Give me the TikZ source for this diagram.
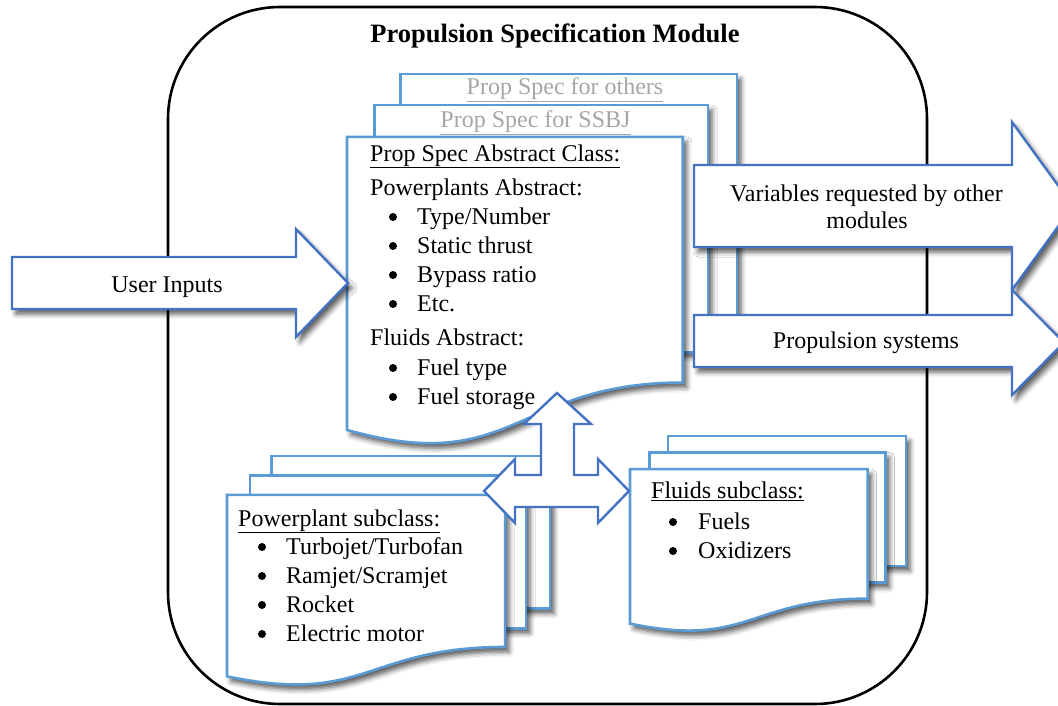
\documentclass[tikz,border=0pt]{standalone}
\usepackage{fontspec}
\setmainfont{Liberation Serif}
\usetikzlibrary{shadows.blur}

\definecolor{docblue}{HTML}{5B9BD5}
\definecolor{arrowblue}{HTML}{4472C4}
\definecolor{ghost}{HTML}{A6A6A6}

\tikzset{
  softshadow/.style={blur shadow={shadow xshift=4pt, shadow yshift=-5pt,
      shadow blur radius=5pt, shadow opacity=65}},
  page/.style={draw=docblue, line width=2.6pt, fill=white, line join=miter, softshadow},
  blockarrow/.style={draw=arrowblue, line width=2.4pt, fill=white, line join=miter},
  shadowarrow/.style={blockarrow, softshadow},
  frame/.style={draw=black, line width=2.6pt, rounded corners=112pt},
  body/.style={inner sep=0pt, font=\fontsize{24}{29}\selectfont},
  lbl/.style={body, anchor=base west},
  ctr/.style={body, anchor=base},
  dot/.style={fill=black},
}

% stacked multi-page document: #1 left, #2 top, #3 width, #4 height
\newcommand\docstack[4]{%
  \path[page] ({#1+0.1376*#3},#2) rectangle ({#1+#3},{#2+0.666*#4});
  \path[page] ({#1+0.0709*#3},{#2+0.084*#4}) rectangle ({#1+0.926*#3},{#2+0.752*#4});
  \path[page] (#1,{#2+0.170*#4}) -- ({#1+0.861*#3},{#2+0.170*#4})
     -- ({#1+0.861*#3},{#2+0.834*#4})
     .. controls ({#1+0.4305*#3},{#2+0.834*#4}) and ({#1+0.4305*#3},{#2+1.090*#4})
     .. (#1,{#2+0.962*#4}) -- cycle;
}
% bullet mark placed left of a list item: #1 x, #2 baseline
\newcommand\bulletmark[2]{\fill[dot] (#1,{#2-7}) circle (4);}

\begin{document}
\begin{tikzpicture}[x=1pt, y=-1pt]
\useasboundingbox (0,0) rectangle (1058,706);
\clip (0,0) rectangle (1058,706);

% module frame and title
\draw[frame] (168,7) rectangle (927,704);
\node[ctr, font=\bfseries\fontsize{26.5}{30}\selectfont] (title) at (555,43) {Propulsion Specification Module};

% abstract class stack
\docstack{347}{74}{390}{370}
\node[ctr, text=ghost] (others) at (565,95) {\underline{Prop Spec for others}};
\node[ctr, text=ghost] (ssbj) at (535.5,128) {\underline{Prop Spec for SSBJ}};
\node[lbl] (abs) at (370,161) {\underline{Prop Spec Abstract Class:}};
\node[lbl] (ppabs) at (370,195) {Powerplants Abstract:};
\bulletmark{393}{224} \node[lbl] (a1) at (417,224) {Type/Number};
\bulletmark{393}{253} \node[lbl] (a2) at (417,253) {Static thrust};
\bulletmark{393}{282} \node[lbl] (a3) at (417,282) {Bypass ratio};
\bulletmark{393}{311} \node[lbl] (a4) at (417,311) {Etc.};
\node[lbl] (flabs) at (370,345) {Fluids Abstract:};
\bulletmark{393}{375} \node[lbl] (a5) at (417,375) {Fuel type};
\bulletmark{393}{404} \node[lbl] (a6) at (417,404) {Fuel storage};

% outputs
\path[shadowarrow] (694,165) -- (1012,165) -- (1012,122) -- (1073,206) -- (1012,290)
   -- (1012,247) -- (694,247) -- cycle;
\path[shadowarrow] (694,315) -- (1012,315) -- (1012,290) -- (1064,342.5) -- (1012,395)
   -- (1012,367) -- (694,367) -- cycle;
\node[ctr] (vars1) at (866.5,201) {Variables requested by other};
\node[ctr] (vars2) at (867,228) {modules};
\node[ctr] (psys) at (866,348) {Propulsion systems};

% input
\path[shadowarrow] (12,257) -- (296,257) -- (296,229) -- (348,283) -- (296,337)
   -- (296,309) -- (12,309) -- cycle;
\node[ctr] (user) at (167,292) {User Inputs};

% powerplant subclass stack
\docstack{227}{456}{323}{229}
\node[lbl] (pps) at (238,526) {\underline{Powerplant subclass:}};
\bulletmark{262}{554} \node[lbl] (p1) at (286,554) {Turbojet/Turbofan};
\bulletmark{262}{583} \node[lbl] (p2) at (286,583) {Ramjet/Scramjet};
\bulletmark{262}{612} \node[lbl] (p3) at (286,612) {Rocket};
\bulletmark{262}{641} \node[lbl] (p4) at (286,641) {Electric motor};

% fluids subclass stack
\docstack{630}{436}{276}{195}
\node[lbl] (fls) at (651,498) {\underline{Fluids subclass:}};
\bulletmark{673}{529} \node[lbl] (f1) at (698,529) {Fuels};
\bulletmark{673}{558} \node[lbl] (f2) at (698,558) {Oxidizers};

% inheritance link: left-right-up arrow
\path[blockarrow] (557,393) -- (591,424) -- (574,424) -- (574,475) -- (598,475) -- (598,459)
   -- (629,491) -- (598,523) -- (598,507) -- (515,507) -- (515,523) -- (484,491)
   -- (515,459) -- (515,475) -- (541,475) -- (541,424) -- (524,424) -- cycle;
\end{tikzpicture}
\end{document}
